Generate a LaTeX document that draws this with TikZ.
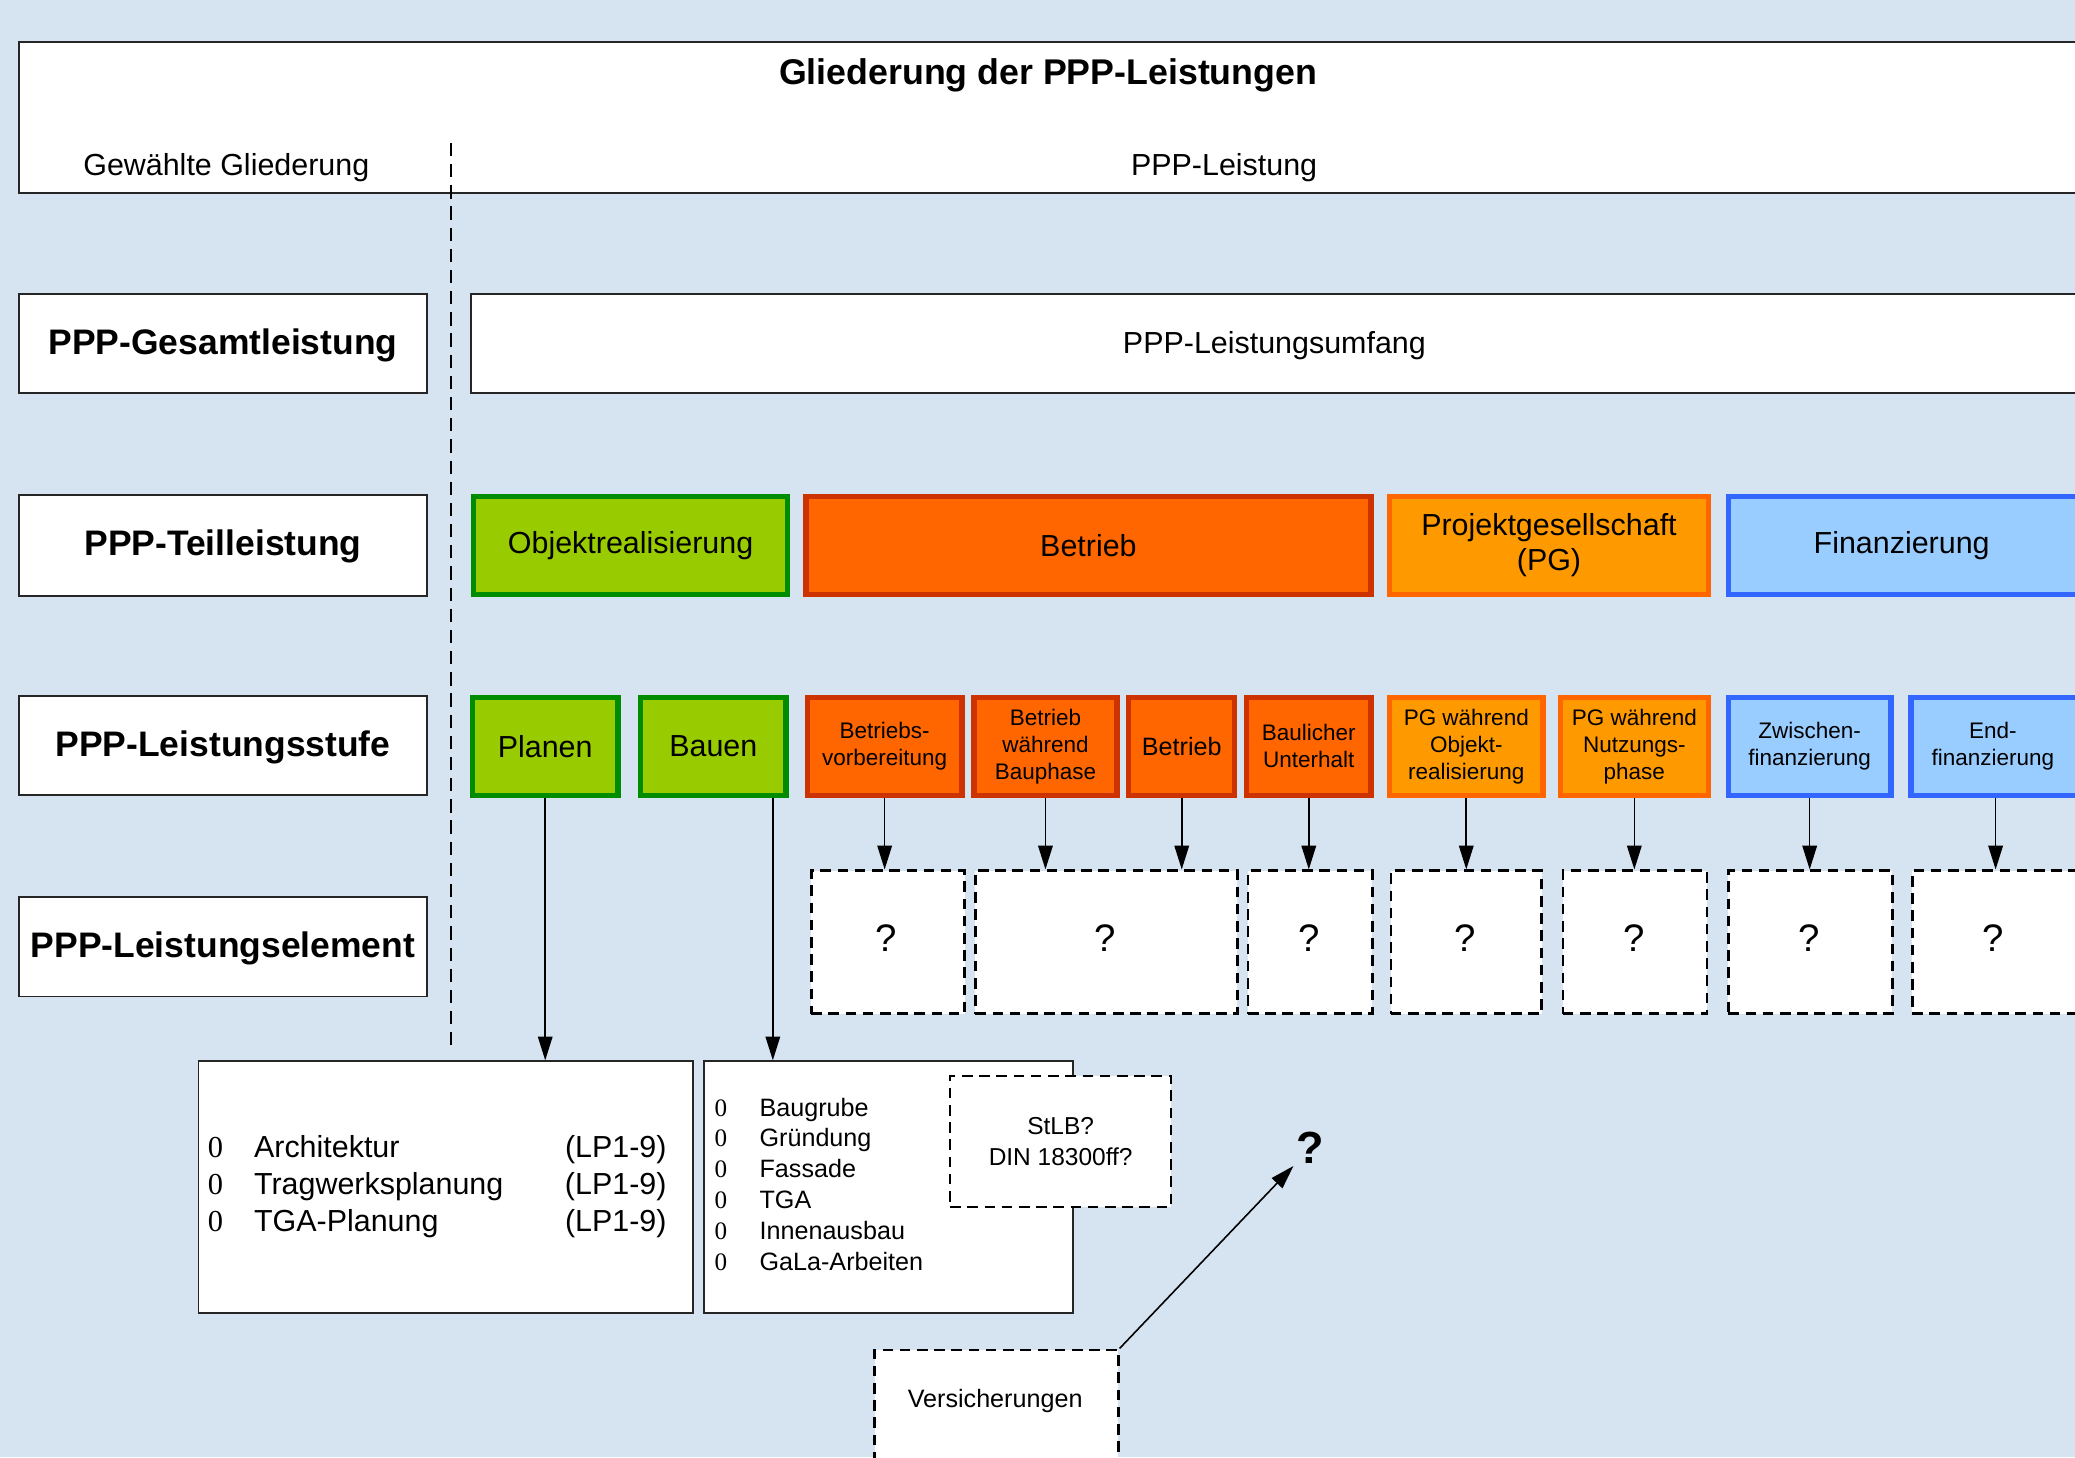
\documentclass[tikz,border=0pt]{standalone}
\usepackage{fontspec}
\setmainfont{Liberation Sans}
\newfontfamily\zerofont{Liberation Serif}
\usetikzlibrary{arrows.meta}
\definecolor{bg}{RGB}{214,228,241}
\definecolor{gfill}{RGB}{153,204,0}
\definecolor{gline}{RGB}{0,140,0}
\definecolor{ofill}{RGB}{255,102,0}
\definecolor{oline}{RGB}{204,51,0}
\definecolor{pfill}{RGB}{255,153,0}
\definecolor{pline}{RGB}{255,102,0}
\definecolor{bfill}{RGB}{153,204,255}
\definecolor{bline}{RGB}{51,102,255}
\newcommand{\zr}{{\zerofont 0}}
\begin{document}
\begin{tikzpicture}[x=1pt,y=-1pt,
  wbox/.style={draw=black!85, line width=1.5pt, fill=white, inner sep=0pt, align=center},
  gbox/.style={draw=gline, fill=gfill, line width=4pt, inner sep=0pt, align=center},
  obox/.style={draw=oline, fill=ofill, line width=4pt, inner sep=0pt, align=center},
  pbox/.style={draw=pline, fill=pfill, line width=4pt, inner sep=0pt, align=center},
  bbox/.style={draw=bline, fill=bfill, line width=4pt, inner sep=0pt, align=center},
  qbox/.style={draw=black, dash pattern=on 8pt off 5pt, line width=2pt, fill=white, inner sep=0pt, align=center},
  arr/.style={-{Triangle[length=18pt,width=11pt]}, line width=1.2pt},
  ftitle/.style={font=\fontsize{27}{32}\selectfont\bfseries},
  flab/.style={font=\fontsize{26.8}{31}\selectfont\bfseries},
  fmid/.style={font=\fontsize{23}{26}\selectfont},
  fsmall/.style={font=\fontsize{17}{20.5}\selectfont},
  fq/.style={font=\fontsize{29}{32}\selectfont},
  fbet/.style={font=\fontsize{19}{22}\selectfont},
  fstlb/.style={font=\fontsize{18.5}{23}\selectfont},
  row/.style={minimum height=74pt},
  qrow/.style={minimum height=108pt}
]
\useasboundingbox (0,0) rectangle (1568,1101);
\clip (0,0) rectangle (1568,1101);
\fill[bg] (0,0) rectangle (1568,1101);

% header
\node[wbox, minimum width=1558pt, minimum height=114pt] (title) at (793,89) {};
\node[ftitle] (titletxt) at (792,57) {Gliederung der PPP-Leistungen};
\node[fmid] (gew) at (171,127) {Gewählte Gliederung};
\node[fmid] (pppl) at (925,127) {PPP-Leistung};

% dashed separator
\coordinate (vtop) at (341,108);
\coordinate (vbot) at (341,795);
\draw[line width=1.5pt, dash pattern=on 10pt off 6pt] (vtop) -- (vbot);

% left column
\node[wbox, minimum width=309pt, minimum height=75pt] (l1) at (168.5,259.5) {};
\node[wbox, minimum width=309pt, minimum height=76pt] (l2) at (168.5,412) {};
\node[wbox, minimum width=309pt, minimum height=75pt] (l3) at (168.5,563.5) {};
\node[wbox, minimum width=309pt, minimum height=75pt] (l4) at (168.5,715.5) {};
\node[flab] (l1t) at (168.5,261) {PPP-Gesamtleistung};
\node[flab] (l2t) at (168.5,413) {PPP-Teilleistung};
\node[flab] (l3t) at (168.5,565) {PPP-Leistungsstufe};
\node[flab] (l4t) at (168.5,717) {PPP-Leistungselement};

% Gesamtleistung
\node[wbox, minimum width=1216pt, minimum height=75pt] (umf) at (964,259.5) {};
\node[fmid] (umftxt) at (963,261) {PPP-Leistungsumfang};

% Teilleistung
\node[gbox, fmid, row, minimum width=237pt] (objr) at (476.5,412) {Objektrealisierung};
\node[obox, fmid, row, minimum width=427pt] (betr) at (822.5,412) {Betrieb};
\node[pbox, fmid, row, minimum width=241pt] (pg) at (1170.5,412) {Projektgesellschaft\\(PG)};
\node[bbox, row, minimum width=266pt] (fin) at (1439,412) {};
\node[fmid] (fintxt) at (1437,412) {Finanzierung};

% Leistungsstufe
\node[gbox, fmid, row, minimum width=110pt] (planen) at (412,564) {Planen};
\node[gbox, fmid, row, minimum width=110pt] (bauen) at (539,564) {Bauen};
\node[obox, fsmall, row, minimum width=117pt] (bvor) at (668.5,564) {Betriebs-\\vorbereitung};
\node[obox, fsmall, row, minimum width=108pt] (bwb) at (790,564) {Betrieb\\während\\Bauphase};
\node[obox, fbet, row, minimum width=80pt] (betr2) at (893,564) {Betrieb};
\node[obox, fsmall, row, minimum width=94pt] (baul) at (989,564) {Baulicher\\Unterhalt};
\node[pbox, fsmall, row, minimum width=116pt] (pgo) at (1108,564) {PG während\\Objekt-\\realisierung};
\node[pbox, fsmall, row, minimum width=112pt] (pgn) at (1235,564) {PG während\\Nutzungs-\\phase};
\node[bbox, fsmall, row, minimum width=123pt] (zw) at (1367.5,564) {Zwischen-\\finanzierung};
\node[bbox, row, minimum width=128pt] (endf) at (1508,564) {};
\node[fsmall, align=center] (endtxt) at (1506,564) {End-\\finanzierung};

% Leistungselement placeholders
\node[qbox, qrow, minimum width=116pt] (q1) at (671,712) {};
\node[qbox, qrow, minimum width=198pt] (q2) at (836,712) {};
\node[qbox, qrow, minimum width=94pt] (q3) at (990,712) {};
\node[qbox, qrow, minimum width=114pt] (q4) at (1108,712) {};
\node[qbox, qrow, minimum width=109pt] (q5) at (1235.5,712) {};
\node[qbox, qrow, minimum width=124pt] (q6) at (1368,712) {};
\node[qbox, qrow, minimum width=126pt] (q7) at (1508,712) {};
\node[fq] (q1t) at (670,709) {?};
\node[fq] (q2t) at (835,709) {?};
\node[fq] (q3t) at (989,709) {?};
\node[fq] (q4t) at (1107,709) {?};
\node[fq] (q5t) at (1235,709) {?};
\node[fq] (q6t) at (1367,709) {?};
\node[fq] (q7t) at (1506,709) {?};

\draw[arr] (bvor.south) -- (bvor.south |- q1.north);
\draw[arr] (bwb.south) -- (bwb.south |- q2.north);
\draw[arr] (betr2.south) -- (betr2.south |- q2.north);
\draw[arr] (baul.south) -- (baul.south |- q3.north);
\draw[arr] (pgo.south) -- (pgo.south |- q4.north);
\draw[arr] (pgn.south) -- (pgn.south |- q5.north);
\draw[arr] (zw.south) -- (zw.south |- q6.north);
\draw[arr] (endf.south) -- (endf.south |- q7.north);

% bottom boxes
\node[wbox, minimum width=374pt, minimum height=190pt, text width=360pt, align=left] (arch) at (337,897)
  {\fontsize{23}{28}\selectfont
   \begin{tabular}{@{}p{35pt}@{}p{235pt}@{}l@{}}
   \zr & Architektur & (LP1-9)\\
   \zr & Tragwerksplanung & (LP1-9)\\
   \zr & TGA-Planung & (LP1-9)
   \end{tabular}};
\node[wbox, minimum width=279pt, minimum height=190pt, text width=263pt, align=left] (bl) at (671.5,897)
  {\fontsize{19}{23.3}\selectfont
   \begin{tabular}{@{}p{34pt}@{}l@{}}
   \zr & Baugrube\\
   \zr & Gründung\\
   \zr & Fassade\\
   \zr & TGA\\
   \zr & Innenausbau\\
   \zr & GaLa-Arbeiten
   \end{tabular}};
\node[qbox, fstlb, minimum width=167pt, minimum height=99pt] (stlb) at (801.5,862.5) {StLB?\\DIN 18300ff?};

\draw[arr] (planen.south) -- (planen.south |- arch.north);
\draw[arr] ([xshift=45pt]bauen.south) -- ([xshift=45pt]bauen.south |- bl.north);

\node[qbox, minimum width=184pt, minimum height=140pt, anchor=north] (vers) at (753,1019) {};
\node[fbet] (verstxt) at (752,1059) {Versicherungen};
\node[font=\fontsize{34}{38}\selectfont\bfseries, inner sep=2pt] (qm) at (990,867) {?};
\draw[arr] (vers.north east) -- (qm.south west);
\end{tikzpicture}
\end{document}
